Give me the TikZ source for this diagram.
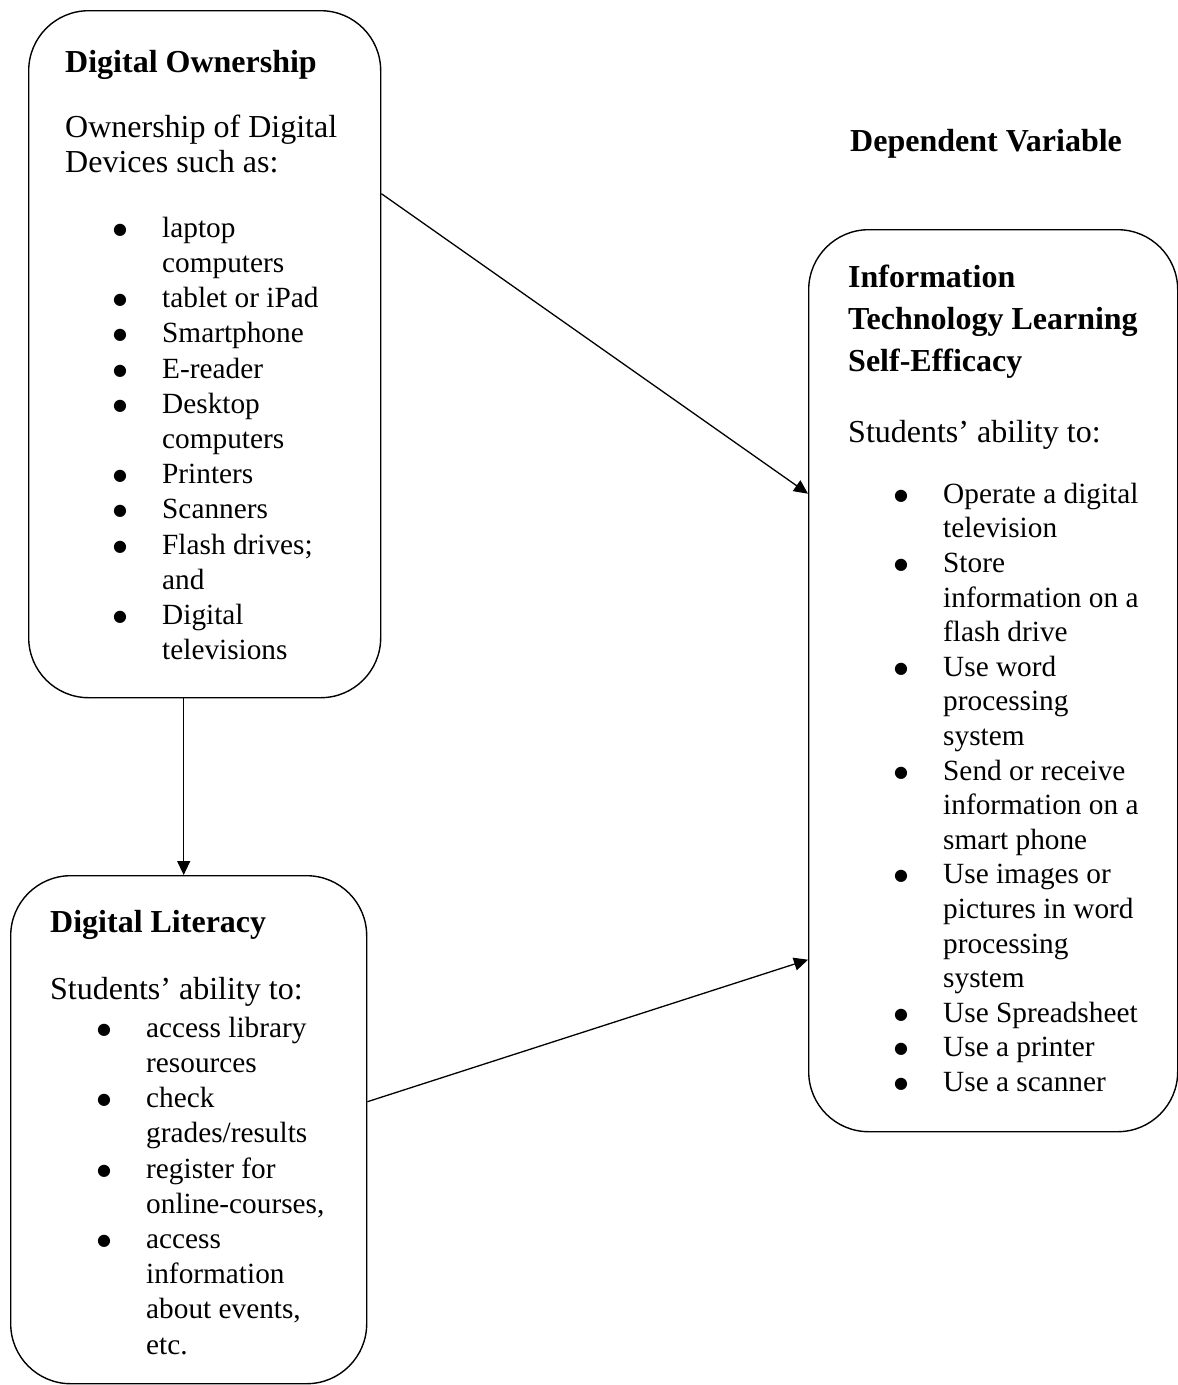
\documentclass[tikz,border=0pt]{standalone}
\usepackage{fontspec}
\setmainfont{Liberation Serif}
\newfontfamily\dotfont{DejaVu Sans}
\usetikzlibrary{arrows.meta}

\tikzset{
  box/.style={draw, line width=1.4pt, rounded corners=60pt, inner sep=0pt, anchor=north west},
  txt/.style={font=\fontsize{32}{35.2}\selectfont, inner sep=0pt, anchor=north west, align=left},
  items/.style={txt, font=\fontsize{29.3}{35.2}\selectfont},
  head/.style={txt, font=\bfseries\fontsize{32}{42}\selectfont},
  link/.style={line width=1.3pt, -{Triangle[length=14pt,width=13pt]}}
}
\newcommand{\bul}{\makebox[0pt][r]{\raisebox{3pt}{\dotfont\fontsize{16}{16}\selectfont ●}\hspace{35pt}}}

\begin{document}
\begin{tikzpicture}[x=1pt, y=-1pt]
      \useasboundingbox (0,0) rectangle (1178,1385);

      % boxes
      \node[box, minimum width=352pt, minimum height=687pt] (own) at (28,10) {};
      \node[box, minimum width=356pt, minimum height=508pt] (lit) at (10,875) {};
      \node[box, minimum width=369pt, minimum height=902pt] (itl) at (808,229) {};

      % digital ownership
      \node[head] (ownhead) at (65,42.6) {\strut Digital Ownership};
      \node[txt] (ownintro) at (65,112.4) {\strut Ownership of Digital\\Devices such as:};
      \node[items] (ownlist) at (162,212.4) {\strut\bul laptop\\computers\\\bul tablet or iPad\\\bul Smartphone\\\bul E-reader\\\bul Desktop\\computers\\\bul Printers\\\bul Scanners\\\bul Flash drives;\\and\\\bul Digital\\televisions};

      % digital literacy
      \node[head] (lithead) at (50,902.6) {\strut Digital Literacy};
      \node[txt] (litintro) at (50,974.4) {\strut Students’ ability to:};
      \node[items] (litlist) at (146,1012.4) {\strut\bul access library\\resources\\\bul check\\grades/results\\\bul register for\\online-courses,\\\bul access\\information\\about events,\\etc.};

      % dependent variable
      \node[head] (dvlabel) at (850,121.6) {\strut Dependent Variable};
      \node[head] (itlhead) at (848,257.6) {\strut Information\\Technology Learning\\Self-Efficacy};
      \node[txt] (itlintro) at (848,417.4) {\strut Students’ ability to:};
      \node[items, font=\fontsize{29.3}{34.6}\selectfont] (itllist) at (943,478.8) {\strut\bul Operate a digital\\television\\\bul Store\\information on a\\flash drive\\\bul Use word\\processing\\system\\\bul Send or receive\\information on a\\smart phone\\\bul Use images or\\pictures in word\\processing\\system\\\bul Use Spreadsheet\\\bul Use a printer\\\bul Use a scanner};

      % arrows
      \draw[link] ([yshift=160.5pt]own.east) -- ([yshift=187pt]itl.west);
      \draw[link] ([xshift=-21pt]own.south) -- ([xshift=-21pt]own.south |- lit.north);
      \draw[link] ([yshift=28pt]lit.east) -- ([yshift=-279pt]itl.west);
\end{tikzpicture}
\end{document}
